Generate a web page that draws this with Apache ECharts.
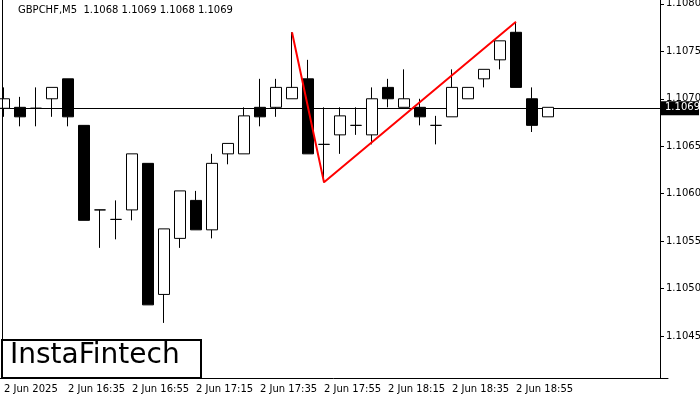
<!DOCTYPE html>
<html><head><meta charset="utf-8">
<script src="https://cdn.jsdelivr.net/npm/echarts@6/dist/echarts.min.js"></script>
<style>html,body{margin:0;padding:0;background:#fff}#c{width:700px;height:400px}</style>
</head><body><div id="c"></div>
<script>
const times = ["2 Jun 2025","16:20","16:25","16:30","2 Jun 16:35","16:40","16:45","16:50","2 Jun 16:55","17:00","17:05","17:10","2 Jun 17:15","17:20","17:25","17:30","2 Jun 17:35","17:40","17:45","17:50","2 Jun 17:55","18:00","18:05","18:10","2 Jun 18:15","18:20","18:25","18:30","2 Jun 18:35","18:40","18:45","18:50","2 Jun 18:55","19:00","19:05","19:10","19:15","19:20","19:25","19:30","19:35","19:40"];
const opens  = [1.10690,1.10691,1.10690,1.10700,1.10721,1.10672,1.10583,1.10573,1.10583,1.10632,1.10494,1.10553,1.10593,1.10562,1.10642,1.10642,1.10691,1.10691,1.10700,1.10721,1.10652,1.10662,1.10672,1.10662,1.10712,1.10691,1.10691,1.10672,1.10681,1.10700,1.10721,1.10741,1.10770,1.10700,1.10681];
const closes = [1.10700,1.10681,1.10690,1.10712,1.10681,1.10572,1.10583,1.10573,1.10642,1.10483,1.10563,1.10603,1.10562,1.10632,1.10653,1.10682,1.10681,1.10712,1.10712,1.10642,1.10652,1.10682,1.10672,1.10700,1.10700,1.10700,1.10681,1.10672,1.10712,1.10712,1.10731,1.10761,1.10712,1.10672,1.10691];
const lows   = [1.10681,1.10671,1.10671,1.10681,1.10671,1.10572,1.10543,1.10552,1.10572,1.10483,1.10464,1.10543,1.10562,1.10553,1.10631,1.10642,1.10671,1.10681,1.10700,1.10642,1.10612,1.10642,1.10662,1.10652,1.10691,1.10691,1.10672,1.10652,1.10681,1.10700,1.10712,1.10731,1.10712,1.10665,1.10681];
const highs  = [1.10712,1.10702,1.10712,1.10712,1.10721,1.10672,1.10583,1.10593,1.10642,1.10632,1.10563,1.10603,1.10603,1.10642,1.10653,1.10691,1.10721,1.10721,1.10770,1.10741,1.10691,1.10691,1.10691,1.10712,1.10721,1.10731,1.10700,1.10682,1.10731,1.10712,1.10731,1.10761,1.10780,1.10712,1.10691];
const patternIdx = [18, 20, 32];
const patternVal = [1.10770, 1.10612, 1.10781];
const yTicks = [1.1045,1.1050,1.1055,1.1060,1.1065,1.1070,1.1075,1.1080];
const currentPrice = 1.1069;

const candles = opens.map((o,i)=>[o,closes[i],lows[i],highs[i]]);
const chart = echarts.init(document.getElementById('c'));
const baseGraphics = [
    {type:'line',shape:{x1:2.5,y1:0,x2:2.5,y2:378},style:{stroke:'#000',lineWidth:1},z:90},
    {type:'rect',shape:{x:661,y:379,width:39,height:21},style:{fill:'#fff'},z:95},
    {type:'text',left:18,top:5,style:{text:'GBPCHF,M5  1.1068 1.1069 1.1068 1.1069',fontSize:10,fontFamily:'DejaVu Sans',fill:'#000'}},
    {type:'rect',shape:{x:2,y:340,width:199,height:38},style:{fill:'#fff',stroke:'#000',lineWidth:2},z:100},
    {type:'text',left:10,top:342,style:{text:'InstaFintech',fontSize:28,fontFamily:'DejaVu Sans',fill:'#000'},z:101}
];
chart.setOption({
  animation:false,
  grid:{left:-4,right:32,top:0,bottom:22,outerBoundsMode:'none',show:false},
  xAxis:{type:'category',data:times,boundaryGap:true,
    axisLine:{lineStyle:{color:'#000'}},
    axisTick:{alignWithLabel:true,interval:(i)=>i%4===0,lineStyle:{color:'#000'},length:4},
    axisLabel:{interval:(i)=>i%4===0 && i<=32,align:'left',color:'#000',fontSize:10,fontFamily:'DejaVu Sans',margin:6},
    splitLine:{show:false}},
  yAxis:{type:'value',position:'right',offset:-8,min:1.10406,max:1.10804,
    axisLine:{show:true,lineStyle:{color:'#000'}},
    axisTick:{show:true,customValues:yTicks,length:4,lineStyle:{color:'#000'}},
    axisLabel:{customValues:yTicks,color:'#000',fontSize:10,fontFamily:'DejaVu Sans',margin:6,formatter:(v)=>v.toFixed(4)},
    splitLine:{show:false}},
  graphic:baseGraphics,
  series:[
    {type:'candlestick',data:candles,barWidth:11,
      itemStyle:{color:'#fff',color0:'#000',borderColor:'#000',borderColor0:'#000',borderWidth:1}},
    {type:'line',data:patternIdx.map((x,i)=>[x,patternVal[i]]),symbol:'none',lineStyle:{color:'#ff0000',width:2},z:5}
  ]
});
const py = chart.convertToPixel({yAxisIndex:0}, currentPrice);
const ax = 660;
chart.setOption({graphic: baseGraphics.concat([
  {type:'line',shape:{x1:0,y1:Math.round(py)+0.5,x2:ax,y2:Math.round(py)+0.5},style:{stroke:'#000',lineWidth:1},z:1},
  {type:'rect',shape:{x:ax+1,y:py-7,width:38,height:14},style:{fill:'#000'},z:110},
  {type:'text',x:ax+5,y:py-6,style:{text:currentPrice.toFixed(4),fontSize:10,fontFamily:'DejaVu Sans',fill:'#fff'},z:111}
])});
</script></body></html>
